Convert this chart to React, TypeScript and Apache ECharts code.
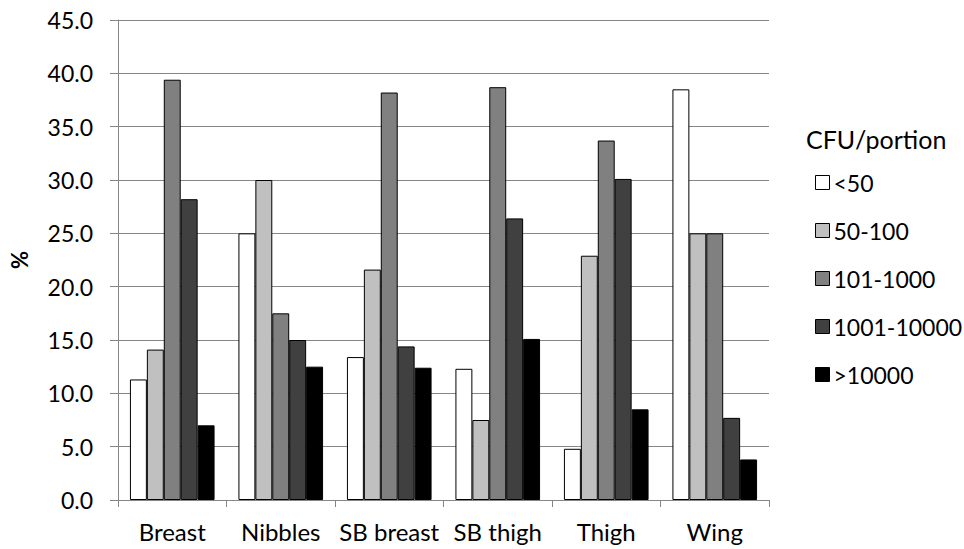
import React, { useEffect, useRef } from "react";
import * as echarts from "echarts";

// Share of samples (%) per CFU/portion band for each chicken portion type
const categories = ["Breast", "Nibbles", "SB breast", "SB thigh", "Thigh", "Wing"];

const seriesNames = ["<50", "50-100", "101-1000", "1001-10000", ">10000"];
const seriesColors = ["#ffffff", "#c0c0c0", "#808080", "#404040", "#000000"];

const lt50 = [11.3, 25.0, 13.4, 12.3, 4.8, 38.5];
const from50to100 = [14.1, 30.0, 21.6, 7.5, 22.9, 25.0];
const from101to1000 = [39.4, 17.5, 38.2, 38.7, 33.7, 25.0];
const from1001to10000 = [28.2, 15.0, 14.4, 26.4, 30.1, 7.7];
const gt10000 = [7.0, 12.5, 12.4, 15.1, 8.5, 3.8];

const seriesValues = [lt50, from50to100, from101to1000, from1001to10000, gt10000];

const yTicks = { min: 0, max: 45, interval: 5 };

const FONT = "Lato, 'Open Sans', sans-serif";
const AXIS_GREY = "#868686";

export default function App() {
  const ref = useRef<HTMLDivElement>(null);

  useEffect(() => {
    if (!ref.current) return;
    const chart = echarts.init(ref.current, null, { renderer: "svg" });
    chart.setOption({
      animation: false,
      backgroundColor: "#ffffff",
      textStyle: { fontFamily: FONT, color: "#000" },
      title: {
        text: "CFU/portion",
        left: 801,
        top: 121,
        textStyle: { fontFamily: FONT, fontSize: 25, fontWeight: "normal", color: "#000" },
      },
      legend: {
        orient: "vertical",
        left: 810,
        top: 166,
        itemWidth: 14,
        itemHeight: 14,
        itemGap: 25,
        icon: "rect",
        textStyle: { fontFamily: FONT, fontSize: 23, color: "#000", padding: [0, 0, 0, -1] },
        itemStyle: { borderColor: "#000", borderWidth: 1 },
        data: seriesNames,
      },
      grid: { left: 117, right: 195, top: 20, bottom: 49, containLabel: false },
      xAxis: {
        type: "category",
        data: categories,
        axisLine: { lineStyle: { color: AXIS_GREY, width: 1 } },
        axisTick: { show: true, length: 7, lineStyle: { color: AXIS_GREY } },
        axisLabel: { fontFamily: FONT, fontSize: 24, color: "#000", margin: 19, interval: 0 },
        splitLine: { show: false },
      },
      yAxis: {
        type: "value",
        min: yTicks.min,
        max: yTicks.max,
        interval: yTicks.interval,
        name: "%",
        nameLocation: "middle",
        nameGap: 88,
        nameRotate: 90,
        nameTextStyle: { fontFamily: FONT, fontSize: 22, fontWeight: "bold", color: "#000" },
        axisLine: { show: true, lineStyle: { color: AXIS_GREY, width: 1 } },
        axisTick: { show: true, length: 8, lineStyle: { color: AXIS_GREY } },
        axisLabel: {
          fontFamily: FONT,
          fontSize: 23,
          color: "#000",
          margin: 25,
          formatter: (v: number) => v.toFixed(1),
        },
        splitLine: { show: true, lineStyle: { color: AXIS_GREY, width: 1 } },
      },
      series: seriesNames.map((name, i) => ({
        name,
        type: "bar",
        data: seriesValues[i],
        barGap: "0%",
        barCategoryGap: "22%",
        itemStyle: { color: seriesColors[i], borderColor: "#000", borderWidth: 1 },
        emphasis: { disabled: true },
      })),
    });
    return () => chart.dispose();
  }, []);

  return <div ref={ref} style={{ width: 964, height: 549, position: "absolute", left: 0, top: 0 }} />;
}
